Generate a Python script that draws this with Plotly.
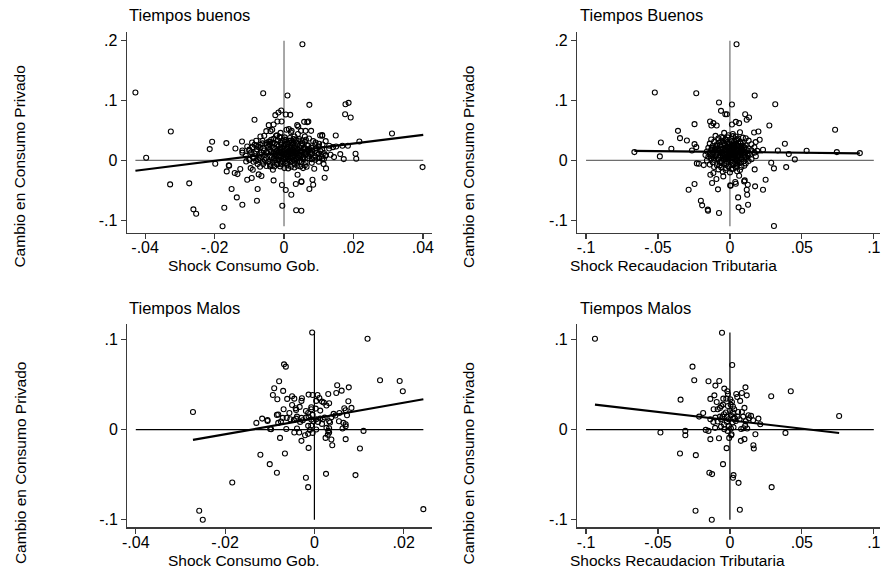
import plotly.graph_objects as go

W, H = 882, 585
FONT = "Liberation Sans, Arial, sans-serif"

# ---------------- data ----------------
panel_titles = ["Tiempos buenos", "Tiempos Buenos", "Tiempos Malos", "Tiempos Malos"]
x_titles = ["Shock Consumo Gob.", "Shock Recaudacion Tributaria",
            "Shock Consumo Gob.", "Shocks Recaudacion Tributaria"]
y_title = "Cambio en Consumo Privado"

gov_ticks = [-0.04, -0.02, 0, 0.02, 0.04]
gov_ticktext = ["-.04", "-.02", "0", ".02", ".04"]
gov_ticks_bad = [-0.04, -0.02, 0, 0.02]
gov_ticktext_bad = ["-.04", "-.02", "0", ".02"]
tax_ticks = [-0.1, -0.05, 0, 0.05, 0.1]
tax_ticktext = ["-.1", "-.05", "0", ".05", ".1"]
y_ticks_good = [-0.1, 0, 0.1, 0.2]
y_ticktext_good = ["-.1", "0", ".1", ".2"]
y_ticks_bad = [-0.1, 0, 0.1]
y_ticktext_bad = ["-.1", "0", ".1"]

# fitted-line end points
fit_good_gov_x = [-0.0428, 0.0401]
fit_good_gov_y = [-0.0172, 0.0428]
fit_good_tax_x = [-0.0664, 0.0903]
fit_good_tax_y = [0.0161, 0.0117]
fit_bad_gov_x = [-0.0272, 0.0244]
fit_bad_gov_y = [-0.0115, 0.0337]
fit_bad_tax_x = [-0.0938, 0.0759]
fit_bad_tax_y = [0.0278, -0.0038]

# Good times, government consumption shock
good_gov_points = [
    (-0.0428, 0.1133), (-0.0397, 0.0044), (-0.0326, 0.0483), (-0.0328, -0.0400), (-0.0273, -0.0383),
    (-0.0261, -0.0817), (-0.0253, -0.0889), (-0.0177, -0.1100), (-0.0172, -0.0789), (-0.0214, 0.0189),
    (-0.0207, 0.0311), (-0.0198, -0.0056), (-0.0166, 0.0289), (-0.0159, -0.0083), (-0.0151, -0.0478),
    (-0.0136, -0.0617), (-0.0120, -0.0739), (-0.0078, -0.0672), (-0.0076, -0.0478), (-0.0060, 0.1122),
    (-0.0085, 0.0678), (0.0010, 0.1083), (0.0053, 0.1939), (0.0073, 0.0928), (0.0176, 0.0772),
    (0.0177, 0.0939), (0.0186, 0.0961), (0.0192, 0.0717), (0.0311, 0.0450), (0.0399, -0.0111),
    (0.0206, 0.0111), (0.0208, 0.0028), (0.0172, 0.0022), (0.0217, 0.0317), (0.0149, 0.0417),
    (0.0110, 0.0422), (0.0117, -0.0289), (0.0082, -0.0322), (0.0084, -0.0406), (0.0073, -0.0478),
    (0.0035, -0.0833), (0.0050, -0.0839), (-0.0005, -0.0756), (0.0021, -0.0572), (0.0005, -0.0494),
    (0.0050, -0.0350), (0.0034, -0.0394), (-0.0030, -0.0333), (-0.0006, -0.0411), (-0.0106, -0.0322),
    (-0.0093, -0.0294),
    (-0.0008, 0.0833), (-0.0016, 0.0800), (-0.0025, 0.0756), (0.0005, 0.0767), (0.0018, 0.0761),
    (-0.0019, 0.0650), (-0.0007, 0.0650), (-0.0044, 0.0589), (-0.0030, 0.0600), (0.0058, 0.0644),
    (0.0067, 0.0639), (0.0070, 0.0650), (0.0038, 0.0589), (0.0041, 0.0567), (-0.0051, 0.0489),
    (-0.0039, 0.0489), (-0.0034, 0.0511), (0.0007, 0.0511), (0.0014, 0.0522), (0.0022, 0.0494),
    (0.0049, 0.0494), (0.0062, 0.0494), (0.0078, 0.0494), (0.0104, 0.0417), (0.0110, 0.0411),
    (-0.0068, 0.0400), (-0.0057, 0.0411), (-0.0023, 0.0411), (-0.0012, 0.0378), (-0.0062, 0.0328),
    (-0.0080, 0.0328), (-0.0092, 0.0300), (-0.0121, 0.0317), (-0.0140, 0.0200), (-0.0120, 0.0167),
    (-0.0106, 0.0233), (-0.0100, 0.0161), (-0.0091, 0.0222), (-0.0085, 0.0261), (-0.0075, 0.0233),
    (-0.0068, 0.0261), (-0.0051, 0.0289), (-0.0044, 0.0317), (-0.0037, 0.0344), (-0.0032, 0.0300),
    (-0.0004, 0.0328), (0.0006, 0.0344), (0.0015, 0.0328), (0.0025, 0.0317), (0.0034, 0.0344),
    (0.0044, 0.0356), (0.0053, 0.0333), (0.0063, 0.0344), (0.0072, 0.0367), (0.0084, 0.0322),
    (0.0091, 0.0300), (0.0101, 0.0278), (0.0111, 0.0267), (0.0120, 0.0322), (0.0130, 0.0244),
    (0.0141, 0.0222), (0.0150, 0.0233), (0.0162, 0.0106), (0.0168, 0.0244), (0.0184, 0.0244),
    (0.0134, 0.0094), (0.0144, 0.0056), (0.0120, 0.0089), (0.0115, 0.0022), (0.0101, 0.0039),
    (0.0090, 0.0011), (0.0080, 0.0022), (-0.0109, -0.0017), (-0.0099, 0.0011), (-0.0088, -0.0022),
    (-0.0074, 0.0006), (-0.0061, -0.0017), (-0.0076, -0.0061), (-0.0069, -0.0106), (-0.0051, -0.0094),
    (-0.0038, -0.0078), (-0.0032, -0.0156), (-0.0028, -0.0100), (-0.0020, -0.0061), (-0.0011, -0.0100),
    (0.0001, -0.0128), (0.0012, -0.0133), (0.0020, -0.0106), (0.0030, -0.0117), (0.0038, -0.0089),
    (0.0047, -0.0100), (0.0055, -0.0128), (0.0065, -0.0106), (0.0087, -0.0139), (0.0114, -0.0061),
    (0.0121, -0.0133), (0.0039, -0.0239), (0.0050, -0.0361), (-0.0065, -0.0261), (-0.0073, -0.0233),
    (-0.0165, -0.0183), (-0.0158, -0.0089), (-0.0142, -0.0211), (-0.0134, -0.0228), (-0.0126, -0.0144),
    (-0.0096, -0.0128), (-0.0090, -0.0156),
    (-0.006, 0.020), (-0.005, 0.014), (-0.005, 0.026), (-0.004, 0.008), (-0.004, 0.018), (-0.004, 0.031),
    (-0.003, 0.003), (-0.003, 0.012), (-0.003, 0.022), (-0.003, 0.036), (-0.002, 0.000), (-0.002, 0.009),
    (-0.002, 0.016), (-0.002, 0.027), (-0.002, 0.042), (-0.001, 0.005), (-0.001, 0.013), (-0.001, 0.020),
    (-0.001, 0.030), (-0.001, -0.004), (0.000, 0.002), (0.000, 0.010), (0.000, 0.017), (0.000, 0.024),
    (0.000, 0.035), (0.001, 0.006), (0.001, 0.012), (0.001, 0.019), (0.001, 0.028), (0.001, -0.002),
    (0.002, 0.004), (0.002, 0.011), (0.002, 0.015), (0.002, 0.022), (0.002, 0.033), (0.003, 0.000),
    (0.003, 0.008), (0.003, 0.014), (0.003, 0.021), (0.003, 0.040), (0.004, 0.005), (0.004, 0.012),
    (0.004, 0.018), (0.004, 0.027), (0.005, -0.003), (0.005, 0.009), (0.005, 0.016), (0.005, 0.024),
    (0.006, 0.003), (0.006, 0.013), (0.006, 0.020), (0.006, 0.031), (0.007, 0.008), (0.007, 0.017),
    (0.007, 0.025), (0.008, 0.002), (0.008, 0.012), (0.008, 0.021), (0.009, 0.007), (0.009, 0.016),
    (0.010, 0.011), (0.010, 0.023), (-0.007, 0.010), (-0.007, 0.004), (-0.008, 0.015), (-0.008, 0.025),
    (-0.009, 0.006), (-0.010, 0.018), (-0.0045, -0.002), (-0.0035, 0.005), (-0.0025, 0.011),
    (-0.0015, 0.007), (-0.0005, 0.015), (0.0005, 0.008), (0.0015, 0.014), (0.0025, 0.009),
    (0.0035, 0.017), (0.0045, 0.010), (0.0055, 0.006), (0.0065, 0.011), (-0.0055, 0.009),
    (-0.0045, 0.023), (-0.0035, 0.028), (-0.0025, 0.019), (-0.0015, 0.024), (-0.0005, 0.021),
    (0.0005, 0.026), (0.0015, 0.023), (0.0025, 0.026), (0.0035, 0.030), (0.0045, 0.022),
    (0.0055, 0.019), (0.0065, 0.015), (0.0075, 0.013), (-0.0015, 0.001), (-0.0005, -0.001),
    (0.0005, 0.003), (0.0015, 0.000), (0.0025, 0.005), (0.0035, 0.002), (0.0045, -0.001),
    (0.0055, 0.002), (0.0025, 0.017), (0.0015, 0.010), (0.0005, 0.013), (-0.0005, 0.011),
    (-0.0015, 0.015), (-0.0025, 0.007), (0.0035, 0.012), (0.0045, 0.015), (0.002, 0.047),
    (0.004, 0.044), (0.006, 0.040), (-0.001, 0.046), (0.009, 0.027), (0.011, 0.018), (0.012, 0.008),
    (0.013, 0.020), (0.011, 0.003), (0.010, -0.002), (-0.011, 0.008), (-0.012, 0.013), (-0.006, -0.006),
    (-0.004, -0.010), (-0.002, -0.007), (0.001, -0.008), (0.003, -0.006), (0.006, -0.008),
    (0.008, -0.004), (-0.008, -0.001), (-0.010, 0.001),
    (-0.0058, 0.0165), (-0.0052, 0.0035), (-0.0048, 0.0125), (-0.0042, 0.0275), (-0.0038, 0.0145),
    (-0.0033, 0.0205), (-0.0028, 0.0035), (-0.0027, 0.0285), (-0.0022, 0.0135), (-0.0018, 0.0335),
    (-0.0012, 0.0175), (-0.0011, 0.0085), (-0.0008, 0.0265), (-0.0003, 0.0045), (0.0002, 0.0195),
    (0.0003, 0.0315), (0.0008, 0.0105), (0.0009, 0.0225), (0.0012, 0.0025), (0.0018, 0.0175),
    (0.0021, 0.0295), (0.0024, 0.0125), (0.0028, 0.0015), (0.0031, 0.0245), (0.0033, 0.0065),
    (0.0037, 0.0195), (0.0041, 0.0325), (0.0043, 0.0085), (0.0047, 0.0145), (0.0052, 0.0275),
    (0.0054, 0.0045), (0.0058, 0.0215), (0.0061, 0.0095), (0.0066, 0.0255), (0.0069, 0.0035),
    (0.0072, 0.0195), (0.0077, 0.0105), (0.0081, 0.0165), (0.0086, 0.0045), (0.0092, 0.0205),
    (0.0095, 0.0125), (-0.0065, 0.0135), (-0.0068, 0.0215), (-0.0072, 0.0065), (-0.0078, 0.0185),
    (-0.0085, 0.0115), (-0.0088, 0.0035), (-0.0095, 0.0135), (-0.0062, 0.0285), (0.0105, 0.0155),
    (0.0108, 0.0065), (0.0115, 0.0125), (0.0002, 0.0385), (0.0017, 0.0375), (-0.0013, 0.0395),
    (0.0028, 0.0355), (-0.0026, 0.0005), (0.0007, -0.0045), (0.0038, -0.0035), (-0.0041, -0.0055),
    (0.0062, -0.0035), (-0.0009, -0.0065), (0.0023, -0.0015), (-0.0055, 0.0005),
]

# Good times, tax revenue shock
good_tax_points = [
    (-0.0664, 0.0139), (-0.0522, 0.1133), (-0.0487, 0.0067), (-0.0480, 0.0300), (-0.0407, 0.0194),
    (-0.0361, 0.0494), (-0.0347, 0.0372), (-0.0299, 0.0333), (-0.0287, -0.0489), (-0.0246, 0.0606),
    (-0.0234, 0.1122), (-0.0246, -0.0394), (-0.0202, -0.0672), (-0.0193, -0.0750), (-0.0154, -0.0822),
    (-0.0152, -0.0840), (-0.0076, -0.0878), (-0.0076, 0.0967), (0.0014, 0.0933), (0.0046, 0.1939),
    (0.0172, 0.1083), (0.0315, 0.0939), (0.0306, -0.1094), (0.0274, 0.0583), (0.0382, 0.0278),
    (0.0391, -0.0111), (0.0409, 0.0106), (0.0451, 0.0017), (0.0533, 0.0161), (0.0731, 0.0511),
    (0.0743, 0.0139), (0.0903, 0.0122), (0.0287, -0.0039), (0.0306, -0.0133), (0.0248, -0.0322),
    (0.0230, -0.0489), (0.0175, -0.0433), (0.0172, -0.0150), (0.0124, -0.0406), (0.0117, -0.0489),
    (0.0120, -0.0572), (0.0126, -0.0739), (0.0057, -0.0617), (0.0060, -0.0783), (0.0085, -0.0839),
    (0.0002, -0.0417), (0.0099, -0.0350), (0.0041, -0.0389), (0.0064, -0.0256),
    (-0.0062, 0.0828), (-0.0032, 0.0772), (-0.0021, 0.0772), (0.0106, 0.0772), (0.0133, 0.0717),
    (0.0117, 0.0678), (-0.0138, 0.0650), (-0.0115, 0.0622), (-0.0129, 0.0583), (-0.0092, 0.0583),
    (0.0014, 0.0600), (0.0041, 0.0644), (0.0064, 0.0622), (-0.0246, 0.0272), (-0.0234, 0.0222),
    (-0.0264, 0.0167), (0.0168, 0.0467), (0.0198, 0.0483), (0.0207, 0.0344), (0.0179, 0.0306),
    (0.0230, 0.0178), (0.0333, 0.0167), (0.0103, -0.0333), (0.0037, -0.0361), (0.0005, -0.0422),
    (-0.0136, -0.0239), (-0.0115, -0.0211), (-0.0094, -0.0311), (-0.0124, -0.0378), (-0.0083, -0.0483),
    (-0.0046, -0.0267), (-0.0230, -0.0050), (-0.0216, -0.0056), (-0.0182, -0.0078),
    (-0.004, 0.046), (0.002, 0.044), (0.007, 0.047),
    (-0.010, 0.041), (-0.006, 0.039), (-0.001, 0.042), (0.004, 0.040), (0.009, 0.038),
    (-0.013, 0.035), (-0.008, 0.037), (-0.003, 0.034), (0.001, 0.036), (0.005, 0.035), (0.011, 0.037),
    (-0.011, 0.031), (-0.006, 0.033), (-0.002, 0.030), (0.003, 0.032), (0.007, 0.031), (0.013, 0.033),
    (-0.014, 0.028), (-0.009, 0.027), (-0.004, 0.029), (0.000, 0.027), (0.004, 0.028), (0.009, 0.029),
    (0.015, 0.027), (-0.012, 0.024), (-0.007, 0.025), (-0.002, 0.023), (0.002, 0.026), (0.006, 0.024),
    (0.011, 0.025), (-0.015, 0.021), (-0.010, 0.022), (-0.005, 0.020), (-0.001, 0.022), (0.003, 0.021),
    (0.008, 0.023), (0.013, 0.020), (0.017, 0.022), (-0.013, 0.018), (-0.008, 0.019), (-0.003, 0.017),
    (0.001, 0.019), (0.005, 0.018), (0.010, 0.020), (0.015, 0.017), (-0.016, 0.015), (-0.011, 0.016),
    (-0.006, 0.014), (-0.002, 0.016), (0.002, 0.015), (0.006, 0.017), (0.011, 0.014), (0.019, 0.016),
    (-0.014, 0.012), (-0.009, 0.013), (-0.004, 0.011), (0.000, 0.013), (0.004, 0.012), (0.008, 0.014),
    (0.013, 0.011), (0.017, 0.013), (-0.017, 0.009), (-0.012, 0.010), (-0.007, 0.008), (-0.003, 0.010),
    (0.001, 0.009), (0.005, 0.011), (0.010, 0.008), (0.014, 0.010), (-0.015, 0.006), (-0.010, 0.007),
    (-0.005, 0.005), (-0.001, 0.007), (0.003, 0.006), (0.007, 0.008), (0.012, 0.005), (0.018, 0.007),
    (-0.013, 0.003), (-0.008, 0.004), (-0.003, 0.002), (0.002, 0.004), (0.006, 0.003), (0.010, 0.005),
    (0.015, 0.002), (-0.016, 0.000), (-0.011, 0.001), (-0.006, -0.001), (-0.001, 0.001), (0.004, 0.000),
    (0.008, 0.002), (0.013, -0.001), (-0.012, -0.003), (-0.007, -0.004), (-0.002, -0.002), (0.002, -0.004),
    (0.006, -0.003), (0.011, -0.005), (-0.014, -0.007), (-0.009, -0.008), (-0.004, -0.006), (0.001, -0.008),
    (0.005, -0.007), (0.010, -0.009), (-0.011, -0.011), (-0.006, -0.012), (-0.001, -0.010), (0.004, -0.012),
    (0.008, -0.011), (-0.008, -0.015), (-0.003, -0.016), (0.002, -0.014), (0.007, -0.016),
    (-0.005, -0.019), (0.000, -0.020), (0.005, -0.018),
    (-0.0025, 0.0135), (0.0015, 0.0105), (-0.0005, 0.0185), (0.0035, 0.0155), (-0.0045, 0.0075),
    (0.0025, 0.0035), (-0.0015, 0.0045), (0.0055, 0.0065), (-0.0065, 0.0185), (0.0045, 0.0235),
    (-0.0035, 0.0255), (0.0065, 0.0135), (-0.0055, 0.0115), (0.0005, 0.0155), (0.0025, 0.0085),
    (-0.0025, 0.0055), (0.0075, 0.0195), (-0.0075, 0.0135), (0.0015, 0.0245), (-0.0005, 0.0075),
    (-0.0105, 0.0185), (-0.0095, 0.0095), (-0.0088, 0.0245), (-0.0082, 0.0015), (-0.0078, 0.0165),
    (-0.0072, 0.0295), (-0.0068, 0.0055), (-0.0062, 0.0225), (-0.0058, -0.0035), (-0.0052, 0.0145),
    (-0.0048, 0.0315), (-0.0043, 0.0025), (-0.0038, 0.0195), (-0.0034, 0.0085), (-0.0029, 0.0345),
    (-0.0024, -0.0055), (-0.0021, 0.0215), (-0.0017, 0.0115), (-0.0012, 0.0275), (-0.0008, 0.0035),
    (-0.0004, 0.0165), (0.0002, 0.0235), (0.0004, -0.0025), (0.0008, 0.0125), (0.0012, 0.0315),
    (0.0016, 0.0055), (0.0019, 0.0185), (0.0024, -0.0065), (0.0027, 0.0265), (0.0031, 0.0105),
    (0.0036, 0.0215), (0.0039, 0.0025), (0.0043, 0.0335), (0.0047, 0.0155), (0.0052, -0.0015),
    (0.0056, 0.0245), (0.0059, 0.0085), (0.0064, 0.0185), (0.0068, -0.0045), (0.0072, 0.0125),
    (0.0076, 0.0285), (0.0081, 0.0045), (0.0085, 0.0175), (0.0089, 0.0245), (0.0094, -0.0015),
    (0.0098, 0.0135), (0.0103, 0.0215), (0.0108, 0.0055), (0.0116, 0.0175), (0.0122, 0.0085),
    (-0.0112, 0.0045), (-0.0118, 0.0135), (-0.0125, 0.0205), (-0.0132, 0.0075), (-0.0015, 0.0385),
    (0.0021, 0.0405), (0.0058, 0.0365), (-0.0052, 0.0375), (-0.0031, -0.0125), (0.0012, -0.0145),
    (0.0046, -0.0095), (-0.0072, -0.0085),
]

# Bad times, government consumption shock
bad_gov_points = [
    (-0.0005, 0.1080), (0.0119, 0.1010), (-0.0068, 0.0726), (-0.0064, 0.0700), (-0.0079, 0.0537),
    (0.0147, 0.0548), (0.0191, 0.0541), (0.0198, 0.0426), (-0.0090, 0.0459), (-0.0070, 0.0430),
    (0.0051, 0.0493), (0.0077, 0.0470), (0.0061, 0.0433), (0.0049, 0.0407), (0.0031, 0.0396),
    (-0.0093, 0.0385), (-0.0083, 0.0337), (-0.0061, 0.0341), (-0.0050, 0.0370), (-0.0045, 0.0344),
    (-0.0028, 0.0348), (-0.0029, 0.0319), (-0.0013, 0.0389), (-0.0004, 0.0385), (0.0007, 0.0385),
    (0.0011, 0.0352), (0.0017, 0.0311), (0.0021, 0.0300), (0.0027, 0.0267), (0.0033, 0.0293),
    (0.0076, 0.0315), (0.0004, 0.0319), (-0.0033, 0.0252), (-0.0041, 0.0219), (-0.0069, 0.0226),
    (-0.0056, 0.0185), (-0.0084, 0.0163), (-0.0081, 0.0167), (-0.0071, 0.0130), (-0.0105, 0.0107),
    (-0.0117, 0.0122), (-0.0130, 0.0074), (-0.0105, 0.0096), (-0.0097, 0.0004), (-0.0081, 0.0074),
    (-0.0075, 0.0089), (-0.0062, 0.0130), (-0.0054, 0.0115), (-0.0046, 0.0107), (-0.0041, 0.0122),
    (-0.0039, 0.0144), (-0.0029, 0.0130), (-0.0026, 0.0104), (-0.0032, 0.0085), (-0.0019, 0.0133),
    (-0.0014, 0.0185), (-0.0013, 0.0144), (-0.0007, 0.0248), (-0.0007, 0.0226), (-0.0004, 0.0163),
    (-0.0019, 0.0207), (-0.0007, 0.0111), (-0.0002, 0.0093), (0.0004, 0.0115), (0.0008, 0.0085),
    (0.0013, 0.0122), (0.0019, 0.0115), (0.0023, 0.0133), (0.0033, 0.0093), (0.0038, 0.0137),
    (0.0043, 0.0174), (0.0047, 0.0156), (0.0055, 0.0093), (0.0056, 0.0185), (0.0067, 0.0237),
    (0.0070, 0.0215), (0.0083, 0.0241), (0.0073, 0.0159), (0.0065, 0.0074), (0.0070, 0.0037),
    (0.0063, 0.0011), (0.0035, 0.0078), (0.0033, 0.0015), (0.0027, 0.0019), (0.0017, 0.0063),
    (0.0004, 0.0000), (-0.0007, 0.0044), (-0.0010, -0.0004), (-0.0014, 0.0041), (-0.0004, -0.0037),
    (-0.0014, -0.0048), (-0.0021, -0.0063), (-0.0029, -0.0126), (-0.0039, 0.0011), (-0.0034, -0.0033),
    (-0.0045, -0.0033), (-0.0063, 0.0007), (-0.0077, -0.0093), (-0.0099, 0.0007), (-0.0272, 0.0196),
    (-0.0121, -0.0281), (-0.0066, -0.0267), (-0.0100, -0.0385), (-0.0084, -0.0481), (-0.0013, -0.0204),
    (0.0025, -0.0093), (0.0030, -0.0059), (0.0038, -0.0111), (0.0040, -0.0174), (0.0070, -0.0107),
    (0.0102, -0.0211), (0.0110, -0.0015), (0.0026, -0.0493), (0.0092, -0.0507), (-0.0019, -0.0537),
    (-0.0014, -0.0641), (-0.0184, -0.0589), (-0.0258, -0.0904), (-0.0250, -0.1004), (0.0244, -0.0886),
    (0.0031, -0.0015), (0.0070, 0.0059), (0.0033, -0.0033), (0.0003, 0.0233), (0.0013, 0.0211),
    (-0.0042, 0.0237), (-0.0050, 0.0274),
]

# Bad times, tax revenue shock
bad_tax_points = [
    (-0.0055, 0.1078), (-0.0938, 0.1011), (0.0016, 0.0719), (-0.0260, 0.0700), (-0.0248, 0.0548),
    (-0.0149, 0.0537), (-0.0074, 0.0541), (-0.0101, 0.0489), (0.0423, 0.0426), (0.0287, 0.0370),
    (0.0108, 0.0470), (-0.0039, 0.0456), (-0.0018, 0.0426), (-0.0014, 0.0396), (0.0044, 0.0396),
    (0.0051, 0.0363), (0.0083, 0.0407), (0.0117, 0.0381), (-0.0108, 0.0381), (-0.0136, 0.0341),
    (-0.0343, 0.0333), (-0.0092, 0.0307), (-0.0046, 0.0344), (-0.0025, 0.0344), (-0.0014, 0.0263),
    (0.0014, 0.0307), (0.0071, 0.0319), (0.0101, 0.0241), (-0.0113, 0.0226), (-0.0085, 0.0226),
    (-0.0069, 0.0241), (-0.0060, 0.0263), (-0.0048, 0.0278), (0.0005, 0.0278), (0.0021, 0.0256),
    (-0.0186, 0.0185), (-0.0214, 0.0144), (-0.0136, 0.0115), (-0.0115, 0.0085), (-0.0085, 0.0089),
    (-0.0062, 0.0115), (-0.0051, 0.0144), (-0.0041, 0.0170), (-0.0028, 0.0189), (-0.0021, 0.0144),
    (-0.0009, 0.0115), (0.0000, 0.0207), (0.0007, 0.0159), (0.0021, 0.0189), (0.0032, 0.0130),
    (0.0041, 0.0096), (0.0053, 0.0144), (0.0067, 0.0115), (0.0083, 0.0196), (0.0092, 0.0144),
    (0.0110, 0.0093), (0.0129, 0.0159), (0.0147, 0.0152), (0.0161, 0.0104), (0.0198, 0.0122),
    (0.0211, 0.0059), (0.0133, 0.0126), (-0.0021, 0.0085), (0.0018, 0.0078), (-0.0041, 0.0056),
    (-0.0062, 0.0033), (-0.0103, 0.0019), (-0.0168, -0.0004), (-0.0149, -0.0015), (-0.0483, -0.0033),
    (-0.0310, -0.0015), (-0.0310, -0.0063), (-0.0136, -0.0107), (-0.0076, -0.0096), (-0.0039, 0.0004),
    (-0.0016, -0.0015), (0.0007, 0.0011), (0.0011, -0.0052), (-0.0005, -0.0093), (0.0009, -0.0063),
    (0.0078, 0.0007), (0.0094, 0.0015), (0.0120, 0.0011), (0.0101, -0.0107), (0.0076, -0.0126),
    (0.0177, -0.0052), (0.0163, -0.0174), (0.0166, -0.0211), (0.0386, -0.0037), (-0.0347, -0.0267),
    (-0.0237, -0.0285), (-0.0023, -0.0207), (-0.0048, -0.0385), (-0.0143, -0.0481), (-0.0124, -0.0496),
    (0.0025, -0.0507), (0.0021, -0.0537), (0.0060, -0.0593), (0.0290, -0.0641), (-0.0239, -0.0904),
    (0.0069, -0.0893), (-0.0126, -0.1004), (0.0759, 0.0151), (0.0002, 0.0337), (0.0030, 0.0226),
    (0.0057, 0.0196), (-0.0069, 0.0144), (-0.0101, 0.0133), (0.0023, 0.0122), (-0.0007, 0.0041),
    (0.0025, 0.0026), (0.0106, 0.0041),
]

# ---------------- layout helpers (page pixels -> paper fractions) ----------------
def px_x(p):
    return p / W

def px_y(p):
    return 1 - p / H

panels = [
    dict(pts=good_gov_points, fx=fit_good_gov_x, fy=fit_good_gov_y,
         xdom=(122.7, 430.7), ydom=(31.7, 233.0), xr=(-0.0453, 0.0427), yr=(-0.1205, 0.215),
         xt=gov_ticks, xtt=gov_ticktext, yt=y_ticks_good, ytt=y_ticktext_good,
         hline=(-0.0428, 0.0401), vline=(-0.110, 0.200), refcol="#6e6e6e"),
    dict(pts=good_tax_points, fx=fit_good_tax_x, fy=fit_good_tax_y,
         xdom=(576.7, 881.7), ydom=(31.7, 233.0), xr=(-0.1062, 0.1041), yr=(-0.1205, 0.215),
         xt=tax_ticks, xtt=tax_ticktext, yt=y_ticks_good, ytt=y_ticktext_good,
         hline=(-0.100, 0.100), vline=(-0.110, 0.200), refcol="#6e6e6e"),
    dict(pts=bad_gov_points, fx=fit_bad_gov_x, fy=fit_bad_gov_y,
         xdom=(123.3, 430.7), ydom=(325.0, 528.3), xr=(-0.0419, 0.0264), yr=(-0.1089, 0.117),
         xt=gov_ticks_bad, xtt=gov_ticktext_bad, yt=y_ticks_bad, ytt=y_ticktext_bad,
         hline=(-0.040, 0.0244), vline=(-0.1004, 0.108), refcol="#000000"),
    dict(pts=bad_tax_points, fx=fit_bad_tax_x, fy=fit_bad_tax_y,
         xdom=(576.7, 881.7), ydom=(325.0, 528.3), xr=(-0.1062, 0.1041), yr=(-0.1089, 0.117),
         xt=tax_ticks, xtt=tax_ticktext, yt=y_ticks_bad, ytt=y_ticktext_bad,
         hline=(-0.100, 0.100), vline=(-0.1004, 0.108), refcol="#000000"),
]

title_pos = [(123, 15), (578, 15), (123, 309), (578, 309)]
xtitle_pos = [(162, 266), (567, 266), (162, 561), (567, 561)]
ytitle_pos = [(15, 167), (467, 167), (15, 464), (467, 464)]

fig = go.Figure()
layout = dict(width=W, height=H, margin=dict(l=0, r=0, t=0, b=0),
              paper_bgcolor="white", plot_bgcolor="white", showlegend=False,
              font=dict(family=FONT, size=16, color="black"))
shapes = []
annotations = []

for i, p in enumerate(panels):
    n = i + 1
    xa = "x" if n == 1 else f"x{n}"
    ya = "y" if n == 1 else f"y{n}"
    xs = [q[0] for q in p["pts"]]
    ys = [q[1] for q in p["pts"]]
    fig.add_trace(go.Scatter(x=xs, y=ys, mode="markers", xaxis=xa, yaxis=ya,
                             marker=dict(symbol="circle-open", size=5, color="black",
                                         line=dict(width=1.1, color="black")),
                             hoverinfo="skip"))
    fig.add_trace(go.Scatter(x=p["fx"], y=p["fy"], mode="lines", xaxis=xa, yaxis=ya,
                             line=dict(color="black", width=2.2), hoverinfo="skip"))
    shapes.append(dict(type="line", xref=xa, yref=ya, x0=p["hline"][0], x1=p["hline"][1],
                       y0=0, y1=0, line=dict(color=p["refcol"], width=1.2), layer="below"))
    shapes.append(dict(type="line", xref=xa, yref=ya, x0=0, x1=0,
                       y0=p["vline"][0], y1=p["vline"][1],
                       line=dict(color=p["refcol"], width=1.2), layer="below"))
    axis_common = dict(showline=True, linecolor="#3a3a3a", linewidth=1.2, ticks="outside",
                       ticklen=5, tickwidth=1.2, tickcolor="#3a3a3a", showgrid=False,
                       zeroline=False, tickfont=dict(family=FONT, size=16, color="black"))
    layout["xaxis" if n == 1 else f"xaxis{n}"] = dict(
        axis_common, domain=[px_x(p["xdom"][0]), px_x(p["xdom"][1])], range=list(p["xr"]),
        tickvals=p["xt"], ticktext=p["xtt"], anchor=ya, ticklabelstandoff=-5)
    layout["yaxis" if n == 1 else f"yaxis{n}"] = dict(
        axis_common, domain=[px_y(p["ydom"][1]), px_y(p["ydom"][0])], range=list(p["yr"]),
        tickvals=p["yt"], ticktext=p["ytt"], anchor=xa)

    tx, ty = title_pos[i]
    annotations.append(dict(text=panel_titles[i], x=px_x(tx), y=px_y(ty), xref="paper", yref="paper",
                            xanchor="left", yanchor="middle", showarrow=False,
                            font=dict(family=FONT, size=16.5, color="black")))
    ax_, ay_ = xtitle_pos[i]
    annotations.append(dict(text=x_titles[i], x=px_x(ax_), y=px_y(ay_), xref="paper", yref="paper",
                            xanchor="left", yanchor="middle", showarrow=False,
                            font=dict(family=FONT, size=15.5, color="black")))
    yx, yy = ytitle_pos[i]
    annotations.append(dict(text=y_title, x=px_x(yx), y=px_y(yy), xref="paper", yref="paper",
                            xanchor="center", yanchor="middle", showarrow=False, textangle=-90,
                            font=dict(family=FONT, size=15.5, color="black")))

layout["shapes"] = shapes
layout["annotations"] = annotations
fig.update_layout(**layout)
# the figure is exactly the window size: drop the page's default body margin
fig.write_html("out.html",
               config={"displayModeBar": False, "staticPlot": True},
               post_script="document.body.style.margin='0';document.body.style.overflow='hidden';")
